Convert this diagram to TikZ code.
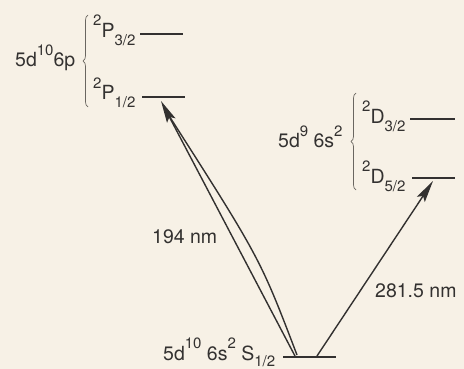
\documentclass[tikz,border=0pt]{standalone}
\usepackage{fontspec}
\setmainfont{TeX Gyre Heros}
\usetikzlibrary{arrows.meta,decorations.pathreplacing}
\definecolor{bg}{HTML}{F7F1E6}
\definecolor{ink}{HTML}{333130}
\definecolor{bracecol}{HTML}{6A6660}
\newcommand{\sps}[1]{\raisebox{12pt}{\fontsize{15}{15}\selectfont #1}}
\newcommand{\sbs}[1]{\raisebox{-8pt}{\fontsize{15}{15}\selectfont #1}}
\newcommand{\sbsg}[1]{\raisebox{-6pt}{\fontsize{15}{15}\selectfont #1}}
\begin{document}
\begin{tikzpicture}[x=1pt,y=-1pt,
  lbl/.style={anchor=base west, inner sep=0pt, text=ink, font=\fontsize{19.5}{19.5}\selectfont},
  lev/.style={draw=ink, line width=2pt},
  gnd/.style={draw=ink, line width=2.8pt},
  arr/.style={draw=ink, line width=1.4pt, -{Stealth[length=22pt,width=9.5pt,inset=4pt]}},
  thinl/.style={draw=ink, line width=1.4pt},
  brc/.style={draw=bracecol, line width=0.7pt, decorate, decoration={brace, amplitude=5pt}}]
\fill[bg] (0,0) rectangle (464,369);
\useasboundingbox (0,0) rectangle (464,369);
% levels
\coordinate (p3a) at (140,34);  \coordinate (p3b) at (183,34);
\coordinate (p1a) at (142,97);  \coordinate (p1b) at (185,97);
\coordinate (d3a) at (410,119); \coordinate (d3b) at (455,119);
\coordinate (d5a) at (412,178); \coordinate (d5b) at (455,178);
\coordinate (ga) at (283,357);  \coordinate (gb) at (336,357);
\draw[lev] (p3a) -- (p3b);
\draw[lev] (p1a) -- (p1b);
\draw[lev] (d3a) -- (d3b);
\draw[lev] (d5a) -- (d5b);
\draw[gnd] (ga) -- (gb);
% arrow points
\coordinate (s1) at (295,356);
\coordinate (s1b) at (297,355);
\coordinate (s2) at (317,356);
\coordinate (tipP) at (161,101);
\coordinate (tipPb) at (166,111);
\coordinate (tipD) at (433,181);
\draw[thinl] (s1b) .. controls (260,258) .. (tipPb);
\draw[arr] (s1) -- (tipP);
\draw[arr] (s2) -- (tipD);
% braces
\coordinate (bp1) at (88,107); \coordinate (bp2) at (88,15);
\coordinate (bd1) at (356,190); \coordinate (bd2) at (356,93);
\draw[brc] (bp1) -- (bp2);
\draw[brc] (bd1) -- (bd2);
% labels
\node[lbl] (pconf) at (15,67) {5d\sps{10}6p};
\node[lbl] (p32) at (93,38) {\sps{2}P\sbs{3/2}};
\node[lbl] (p12) at (93,100) {\sps{2}P\sbs{1/2}};
\node[lbl] (dconf) at (278,148) {5d\sps{9} 6s\sps{2}};
\node[lbl] (d32) at (362,124) {\sps{2}D\sbs{3/2}};
\node[lbl] (d52) at (362,183) {\sps{2}D\sbs{5/2}};
\node[lbl] (gconf) at (163,360) {5d\sps{10} 6s\sps{2} S\sbsg{1/2}};
\node[lbl] (l194) at (152,243) {194 nm};
\node[lbl] (l281) at (375,297) {281.5 nm};
\end{tikzpicture}
\end{document}
